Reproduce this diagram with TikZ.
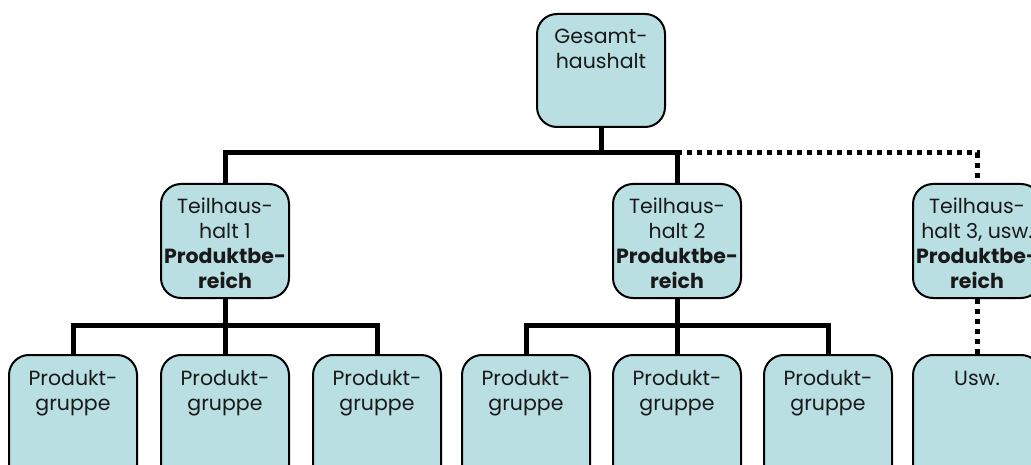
\documentclass[tikz,border=0pt]{standalone}
\usepackage{fontspec}
\setmainfont{Poppins}
\usetikzlibrary{calc}
\definecolor{boxfill}{RGB}{185,223,226}
\definecolor{txt}{RGB}{25,25,25}
\newcommand{\boxtext}[2]{\parbox[c][#1][t]{128pt}{\centering\color{txt}\fontsize{20.5}{25}\selectfont\rule{0pt}{30pt}#2}}
\tikzset{
  bx/.style={draw=black, line width=2pt, rounded corners=20pt, fill=boxfill, inner sep=0pt, anchor=north},
  conn/.style={draw=black, line width=5pt, line join=miter},
  dotconn/.style={draw=black, line width=5pt, dash pattern=on 5pt off 5pt}
}
\begin{document}
\begin{tikzpicture}[x=1pt,y=-1pt]
\useasboundingbox (0,0) rectangle (1031,465);
\clip (0,0) rectangle (1031,465);
% top
\node[bx] (g) at (601,13) {\boxtext{113pt}{Gesamt-\\haushalt}};
% level 2
\node[bx] (t1) at (225,183) {\boxtext{114pt}{Teilhaus-\\halt 1\\\textbf{Produktbe-}\\\textbf{reich}}};
\node[bx] (t2) at (677,183) {\boxtext{114pt}{Teilhaus-\\halt 2\\\textbf{Produktbe-}\\\textbf{reich}}};
\node[bx] (t3) at (977,183) {\boxtext{114pt}{Teilhaus-\\halt 3, usw.\\\textbf{Produktbe-}\\\textbf{reich}}};
% level 3
\node[bx] (p1) at (73,354) {\boxtext{130pt}{Produkt-\\gruppe}};
\node[bx] (p2) at (225,354) {\boxtext{130pt}{Produkt-\\gruppe}};
\node[bx] (p3) at (377,354) {\boxtext{130pt}{Produkt-\\gruppe}};
\node[bx] (p4) at (526,354) {\boxtext{130pt}{Produkt-\\gruppe}};
\node[bx] (p5) at (677,354) {\boxtext{130pt}{Produkt-\\gruppe}};
\node[bx] (p6) at (828,354) {\boxtext{130pt}{Produkt-\\gruppe}};
\node[bx] (p7) at (977,354) {\boxtext{130pt}{Usw.}};
% buses
\coordinate (bus) at (0,153);
\coordinate (busa) at (0,325);
% connectors
\draw[conn] (g.south) -- (g.south |- bus);
\draw[conn] (t1.north) -- (t1.north |- bus) -- (t2.north |- bus) -- (t2.north);
\draw[dotconn] (t2.north |- bus) -- (t3.north |- bus) -- (t3.north);
\draw[conn] (p1.north) -- (p1.north |- busa) -- (p3.north |- busa) -- (p3.north);
\draw[conn] (t1.south) -- (p2.north);
\draw[conn] (p4.north) -- (p4.north |- busa) -- (p6.north |- busa) -- (p6.north);
\draw[conn] (t2.south) -- (p5.north);
\draw[dotconn] (t3.south) -- (p7.north);
\end{tikzpicture}
\end{document}
